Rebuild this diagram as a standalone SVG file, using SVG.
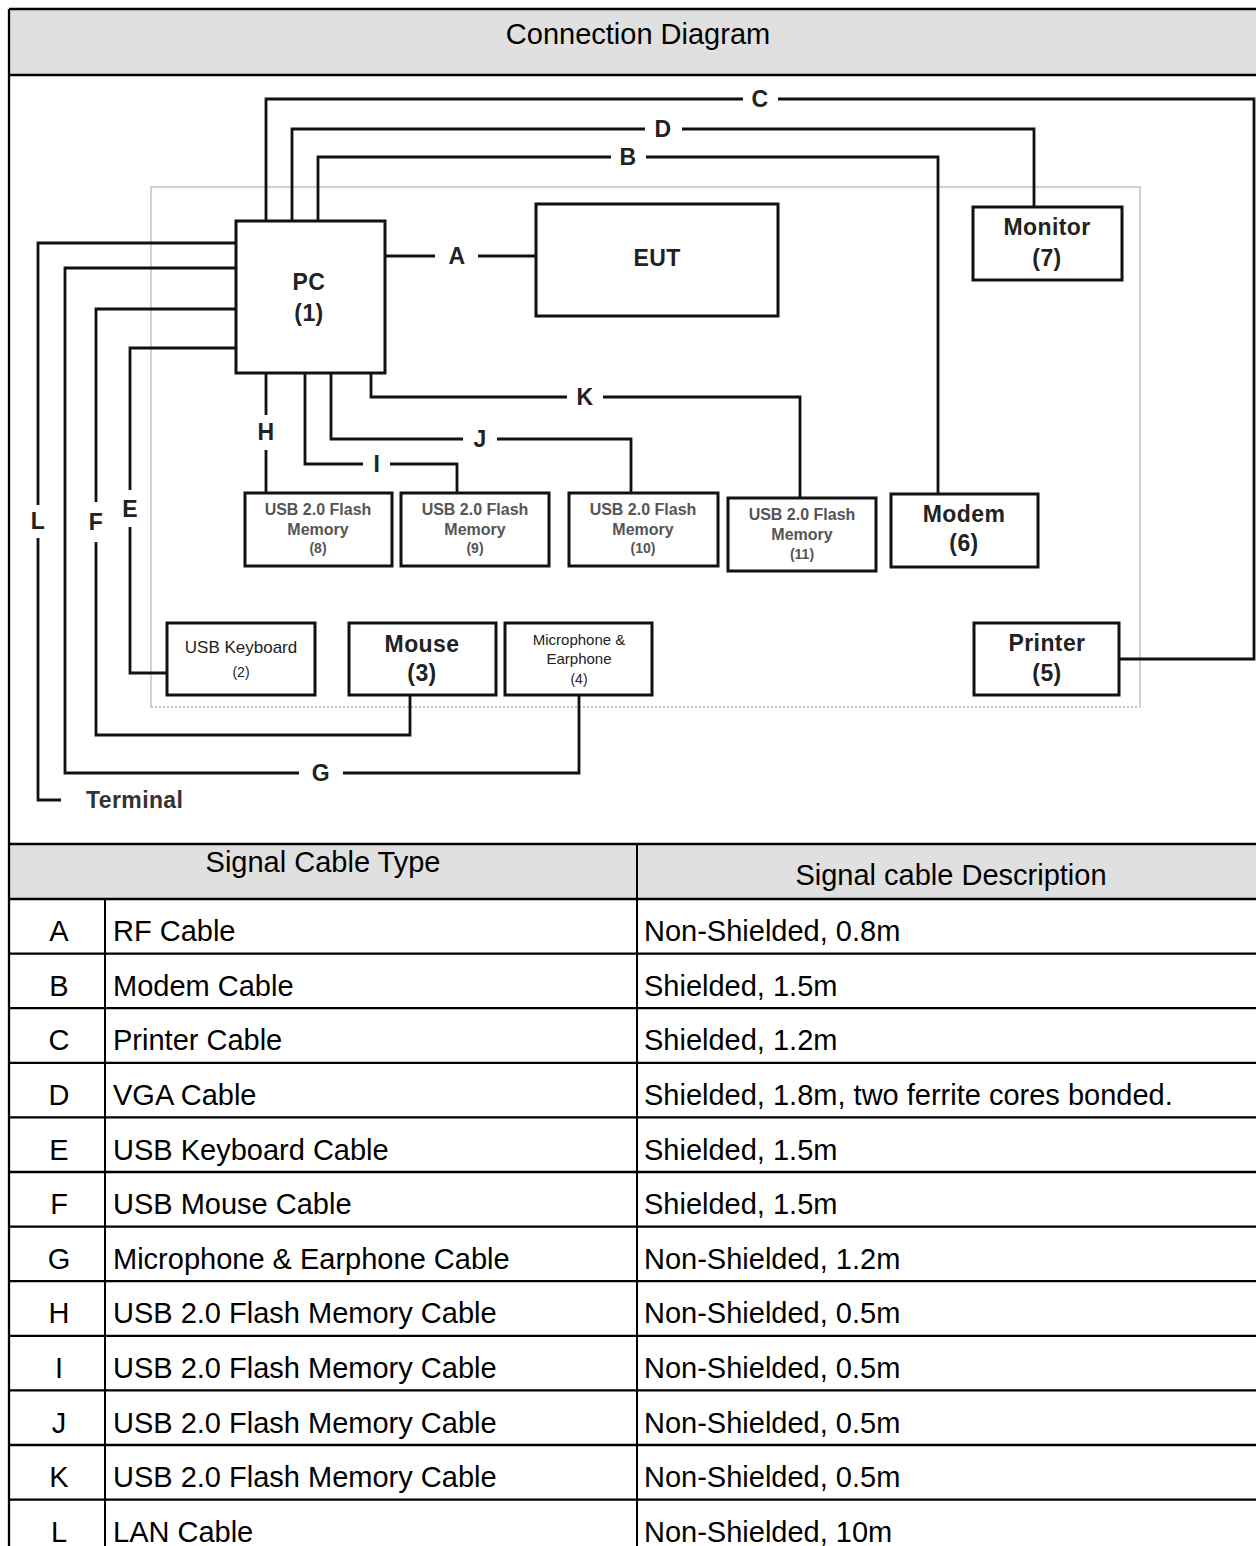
<svg xmlns="http://www.w3.org/2000/svg" width="1256" height="1546" viewBox="0 0 1256 1546">
<style>
.box{fill:#fff;stroke:#111;stroke-width:3}
.wire{fill:none;stroke:#111;stroke-width:2.8}
.lbl{font-family:"Liberation Sans",Arial,sans-serif;font-size:23px;font-weight:bold;fill:#222;text-anchor:middle;letter-spacing:0.4px}
.sm{font-family:"Liberation Sans",Arial,sans-serif;font-size:16px;font-weight:bold;fill:#555;text-anchor:middle}
.num{font-size:14px}
.t{font-family:"Liberation Sans",Arial,sans-serif;font-size:29px;fill:#000}
.c{text-anchor:middle}
.rl{stroke:#000;stroke-width:2.3}
.cl{stroke:#000;stroke-width:2}
</style>
<rect x="0" y="0" width="1256" height="1546" fill="#fff"/>
<g id="frame">
<rect x="9" y="9" width="1250" height="66" fill="#e0e0e0"/>
<rect x="9" y="844" width="1250" height="55" fill="#e0e0e0"/>
<line x1="9" y1="9" x2="1256" y2="9" class="rl" stroke-width="3"/>
<line x1="9" y1="9" x2="9" y2="1546" class="rl" stroke-width="3"/>
<line x1="9" y1="75" x2="1256" y2="75" class="rl" stroke-width="3"/>
<line x1="9" y1="844" x2="1256" y2="844" class="rl"/>
<text x="638" y="44" class="t c">Connection Diagram</text>
</g>
<rect id="area" x="151" y="187" width="989" height="520" fill="none" stroke="#c4c4c4" stroke-width="1.5"/>
<line x1="151" y1="707" x2="1140" y2="707" stroke="#fff" stroke-width="2"/>
<line x1="151" y1="707" x2="1140" y2="707" stroke="#aaa" stroke-width="1.5" stroke-dasharray="2 2"/>
<g id="connectors">
<path class="wire" d="M385,256H435M478,256H536"/>
<path class="wire" d="M318,221V157H611M646,157H938V494"/>
<path class="wire" d="M266,221V99H743M778,99H1254V659H1119"/>
<path class="wire" d="M292,221V129H645M682,129H1034V207"/>
<path class="wire" d="M236,348H130V490M130,527V673H167"/>
<path class="wire" d="M236,309H96V502M96,542V735H410V695"/>
<path class="wire" d="M236,268H65V773H299M343,773H579V695"/>
<path class="wire" d="M266,373V415M266,450V493"/>
<path class="wire" d="M305,373V464H363M390,464H457V493"/>
<path class="wire" d="M331,373V439H463M497,439H631V493"/>
<path class="wire" d="M371,373V397H567M603,397H800V498"/>
<path class="wire" d="M236,243H38V505M38,538V800H61"/>
<text x="457" y="264" class="lbl">A</text>
<text x="628" y="165" class="lbl">B</text>
<text x="760" y="107" class="lbl">C</text>
<text x="663" y="137" class="lbl">D</text>
<text x="130" y="517" class="lbl">E</text>
<text x="96" y="530" class="lbl">F</text>
<text x="321" y="781" class="lbl">G</text>
<text x="266" y="440" class="lbl">H</text>
<text x="377" y="472" class="lbl">I</text>
<text x="480" y="447" class="lbl">J</text>
<text x="585" y="405" class="lbl">K</text>
<text x="38" y="529" class="lbl">L</text>
<text x="86" y="808" class="lbl" style="text-anchor:start;fill:#333">Terminal</text>
</g>
<g id="pc"><rect class="box" x="236" y="221" width="149" height="152"/><text x="309" y="290" class="lbl">PC</text><text x="309" y="321" class="lbl">(1)</text></g>
<g id="eut"><rect class="box" x="536" y="204" width="242" height="112"/><text x="657" y="266" class="lbl">EUT</text></g>
<g id="monitor"><rect class="box" x="973" y="207" width="149" height="73"/><text x="1047" y="235" class="lbl">Monitor</text><text x="1047" y="266" class="lbl">(7)</text></g>
<g id="flash8"><rect class="box" x="245" y="493" width="147" height="73"/><text x="318" y="515" class="sm">USB 2.0 Flash</text><text x="318" y="535" class="sm">Memory</text><text x="318" y="553" class="sm num">(8)</text></g>
<g id="flash9"><rect class="box" x="401" y="493" width="148" height="73"/><text x="475" y="515" class="sm">USB 2.0 Flash</text><text x="475" y="535" class="sm">Memory</text><text x="475" y="553" class="sm num">(9)</text></g>
<g id="flash10"><rect class="box" x="569" y="493" width="149" height="73"/><text x="643" y="515" class="sm">USB 2.0 Flash</text><text x="643" y="535" class="sm">Memory</text><text x="643" y="553" class="sm num">(10)</text></g>
<g id="flash11"><rect class="box" x="728" y="498" width="148" height="73"/><text x="802" y="520" class="sm">USB 2.0 Flash</text><text x="802" y="540" class="sm">Memory</text><text x="802" y="559" class="sm num">(11)</text></g>
<g id="modem"><rect class="box" x="891" y="494" width="147" height="73"/><text x="964" y="522" class="lbl">Modem</text><text x="964" y="551" class="lbl">(6)</text></g>
<g id="keyboard"><rect class="box" x="167" y="623" width="148" height="72"/><text x="241" y="653" class="sm" style="font-size:17px;font-weight:normal;fill:#222">USB Keyboard</text><text x="241" y="677" class="sm num" style="font-weight:normal;fill:#222">(2)</text></g>
<g id="mouse"><rect class="box" x="349" y="623" width="147" height="72"/><text x="422" y="652" class="lbl">Mouse</text><text x="422" y="681" class="lbl">(3)</text></g>
<g id="mic"><rect class="box" x="505" y="623" width="147" height="72"/><text x="579" y="645" class="sm" style="font-size:15px;font-weight:normal;fill:#222">Microphone &amp;</text><text x="579" y="664" class="sm" style="font-size:15px;font-weight:normal;fill:#222">Earphone</text><text x="579" y="684" class="sm num" style="font-weight:normal;fill:#222">(4)</text></g>
<g id="printer"><rect class="box" x="974" y="623" width="145" height="72"/><text x="1047" y="651" class="lbl">Printer</text><text x="1047" y="681" class="lbl">(5)</text></g>
<g id="table">
<line x1="637" y1="844" x2="637" y2="1546" class="cl"/>
<line x1="105" y1="899" x2="105" y2="1546" class="cl"/>
<line x1="9" y1="899" x2="1256" y2="899" class="rl"/>
<line x1="9" y1="953.6" x2="1256" y2="953.6" class="rl"/>
<line x1="9" y1="1008.2" x2="1256" y2="1008.2" class="rl"/>
<line x1="9" y1="1062.8" x2="1256" y2="1062.8" class="rl"/>
<line x1="9" y1="1117.4" x2="1256" y2="1117.4" class="rl"/>
<line x1="9" y1="1172" x2="1256" y2="1172" class="rl"/>
<line x1="9" y1="1226.6" x2="1256" y2="1226.6" class="rl"/>
<line x1="9" y1="1281.2" x2="1256" y2="1281.2" class="rl"/>
<line x1="9" y1="1335.8" x2="1256" y2="1335.8" class="rl"/>
<line x1="9" y1="1390.4" x2="1256" y2="1390.4" class="rl"/>
<line x1="9" y1="1445" x2="1256" y2="1445" class="rl"/>
<line x1="9" y1="1499.6" x2="1256" y2="1499.6" class="rl"/>
<text x="323" y="872" class="t c">Signal Cable Type</text>
<text x="951" y="885" class="t c">Signal cable Description</text>
<g class="t">
<text x="59" y="941" class="c">A</text><text x="113" y="941">RF Cable</text><text x="644" y="941">Non-Shielded, 0.8m</text>
<text x="59" y="996" class="c">B</text><text x="113" y="996">Modem Cable</text><text x="644" y="996">Shielded, 1.5m</text>
<text x="59" y="1050" class="c">C</text><text x="113" y="1050">Printer Cable</text><text x="644" y="1050">Shielded, 1.2m</text>
<text x="59" y="1105" class="c">D</text><text x="113" y="1105">VGA Cable</text><text x="644" y="1105">Shielded, 1.8m, two ferrite cores bonded.</text>
<text x="59" y="1160" class="c">E</text><text x="113" y="1160">USB Keyboard Cable</text><text x="644" y="1160">Shielded, 1.5m</text>
<text x="59" y="1214" class="c">F</text><text x="113" y="1214">USB Mouse Cable</text><text x="644" y="1214">Shielded, 1.5m</text>
<text x="59" y="1269" class="c">G</text><text x="113" y="1269">Microphone &amp; Earphone Cable</text><text x="644" y="1269">Non-Shielded, 1.2m</text>
<text x="59" y="1323" class="c">H</text><text x="113" y="1323">USB 2.0 Flash Memory Cable</text><text x="644" y="1323">Non-Shielded, 0.5m</text>
<text x="59" y="1378" class="c">I</text><text x="113" y="1378">USB 2.0 Flash Memory Cable</text><text x="644" y="1378">Non-Shielded, 0.5m</text>
<text x="59" y="1433" class="c">J</text><text x="113" y="1433">USB 2.0 Flash Memory Cable</text><text x="644" y="1433">Non-Shielded, 0.5m</text>
<text x="59" y="1487" class="c">K</text><text x="113" y="1487">USB 2.0 Flash Memory Cable</text><text x="644" y="1487">Non-Shielded, 0.5m</text>
<text x="59" y="1542" class="c">L</text><text x="113" y="1542">LAN Cable</text><text x="644" y="1542">Non-Shielded, 10m</text>
</g>
</g>
</svg>
